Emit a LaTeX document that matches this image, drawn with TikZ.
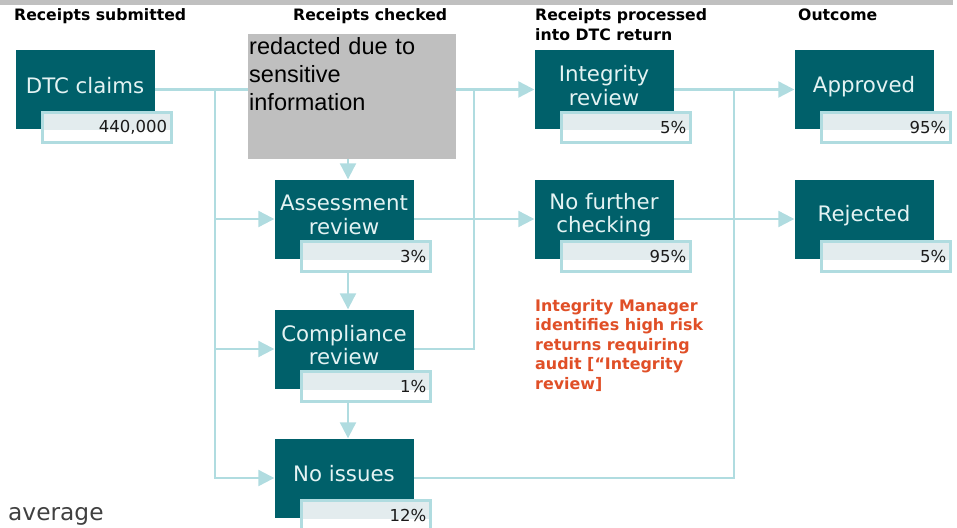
\documentclass[tikz,border=0pt]{standalone}
\usepackage{fontspec}
\setmainfont{DejaVu Sans}
\newfontfamily\redactfont{Liberation Sans}
\usetikzlibrary{arrows.meta,calc,backgrounds}
\definecolor{boxteal}{HTML}{00606A}
\definecolor{boxtxt}{HTML}{E4F3F3}
\definecolor{flowline}{HTML}{B0DCE0}
\definecolor{valtop}{HTML}{E3ECEE}
\definecolor{valtxt}{HTML}{1A1A1A}
\definecolor{notered}{HTML}{E04F27}
\definecolor{redactgray}{HTML}{BFBFBF}
\definecolor{topbar}{HTML}{C0C0C0}
\definecolor{avggray}{HTML}{404040}
\begin{document}
\begin{tikzpicture}[x=1pt,y=-1pt,
    stage/.style={fill=boxteal,minimum width=139pt,minimum height=79pt,inner sep=0pt},
    stagetxt/.style={text=boxtxt,align=center,inner sep=0pt,font=\fontsize{21.3}{23.5}\selectfont},
    share/.style={draw=flowline,line width=3pt,fill=white,anchor=north east,
      inner xsep=4.5pt,inner ysep=0pt,text width=120pt,align=right,minimum height=30pt,
      text=valtxt,font=\fontsize{16.5}{18}\selectfont,
      path picture={\fill[valtop] (path picture bounding box.north west) rectangle
        ($(path picture bounding box.south east)!.4!(path picture bounding box.north east)$);}},
    heading/.style={anchor=north west,inner sep=0pt,align=left,font=\bfseries\fontsize{15.7}{20}\selectfont},
    flow/.style={draw=flowline,line width=2.2pt},
    into/.style={flow,-{Triangle[length=16pt,width=16pt]}}]
  \useasboundingbox (0,0) rectangle (957,527);
  \fill[topbar] (0,0) rectangle (953,5.5);

  % column headings
  \node[heading] (hsub) at (14,8.7) {Receipts submitted};
  \node[heading] (hchk) at (293,8.7) {Receipts checked};
  \node[heading] (hproc) at (535,8.7) {Receipts processed\\into DTC return};
  \node[heading] (hout) at (798,8.7) {Outcome};

  % stages
  \node[stage] (claims) at (85,89.5) {};
  \node[fill=redactgray,minimum width=208pt,minimum height=125pt,inner sep=0pt] (redact) at (352,96.5) {};
  \node[stage] (assess) at (344,219) {};
  \node[stage] (comply) at (344,349) {};
  \node[stage] (noiss) at (344,478) {};
  \node[stage] (integ) at (604,89.5) {};
  \node[stage] (nofur) at (604,219) {};
  \node[stage] (appr) at (864,89.5) {};
  \node[stage] (rej) at (864,219) {};

  \node[stagetxt] (claimst) at ([yshift=4pt]claims.center) {DTC claims};
  \node[stagetxt] (assesst) at ([yshift=4pt]assess.center) {Assessment\\review};
  \node[stagetxt] (complyt) at ([yshift=4pt]comply.center) {Compliance\\review};
  \node[stagetxt] (noisst) at ([yshift=4pt]noiss.center) {No issues};
  \node[stagetxt] (integt) at ([yshift=4pt]integ.center) {Integrity\\review};
  \node[stagetxt] (nofurt) at ([yshift=4pt]nofur.center) {No further\\checking};
  \node[stagetxt] (apprt) at ([yshift=3pt]appr.center) {Approved};
  \node[stagetxt] (rejt) at ([yshift=3pt]rej.center) {Rejected};
  \node[anchor=north west,inner sep=0pt,align=left,text width=206pt,
    font=\redactfont\fontsize{23.5}{28}\selectfont] (redactt) at (249,37.7)
    {redacted due to\\sensitive\\information};

  % shares
  \node[share] (claimsv) at ([xshift=18.5pt,yshift=18.5pt]claims.south east) {440,000};
  \node[share] (assessv) at ([xshift=18.5pt,yshift=18.5pt]assess.south east) {3\%};
  \node[share] (complyv) at ([xshift=18.5pt,yshift=18.5pt]comply.south east) {1\%};
  \node[share] (noissv) at ([xshift=18.5pt,yshift=18.5pt]noiss.south east) {12\%};
  \node[share] (integv) at ([xshift=18.5pt,yshift=18.5pt]integ.south east) {5\%};
  \node[share] (nofurv) at ([xshift=18.5pt,yshift=18.5pt]nofur.south east) {95\%};
  \node[share] (apprv) at ([xshift=18.5pt,yshift=18.5pt]appr.south east) {95\%};
  \node[share] (rejv) at ([xshift=18.5pt,yshift=18.5pt]rej.south east) {5\%};

  \node[anchor=north west,inner sep=0pt,align=left,text=notered,
    font=\bfseries\fontsize{15.9}{19.5}\selectfont] (note) at (535,299)
    {Integrity Manager\\identifies high risk\\returns requiring\\audit [“Integrity\\review]};
  \node[anchor=base west,inner sep=0pt,text=avggray,font=\fontsize{23.3}{26}\selectfont] (avg) at (8,520) {average};

  \coordinate (j1) at (215,89.5);
  \coordinate (j2) at (474,89.5);
  \coordinate (j3) at (734,89.5);
  \coordinate (ax) at (348,0);

  \begin{pgfonlayer}{background}
    \draw[into] (claims.east) to (integ.west);
    \draw[into] (j1) -- (j1 |- noiss) -- (noiss.west);
    \draw[into] (j1 |- assess) -- (assess.west);
    \draw[into] (j1 |- comply) -- (comply.west);
    \draw[flow] (comply.east) -- (j2 |- comply) -- (j2);
    \draw[into] (assess.east) to (nofur.west);
    \draw[into] (redact.south -| ax) to (assess.north -| ax);
    \draw[into] (assessv.south -| ax) to (comply.north -| ax);
    \draw[into] (complyv.south -| ax) to (noiss.north -| ax);
    \draw[into] (integ.east) to (appr.west);
    \draw[flow] (noiss.east) -- (j3 |- noiss) -- (j3);
    \draw[into] (nofur.east) to (rej.west);
  \end{pgfonlayer}
\end{tikzpicture}
\end{document}
